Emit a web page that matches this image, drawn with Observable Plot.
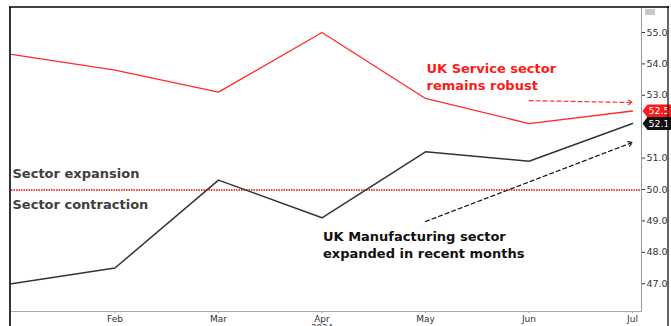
<!DOCTYPE html>
<html><head><meta charset="utf-8">
<script src="https://cdn.jsdelivr.net/npm/d3@7"></script>
<script src="https://cdn.jsdelivr.net/npm/@observablehq/plot@0.6"></script>
<style>
html,body{margin:0;padding:0;background:#fff;}
#chart svg{display:block;}
</style>
</head><body><div id="chart"></div>
<script>
const months = ["Jan","Feb","Mar","Apr","May","Jun","Jul"];
const services = [54.3, 53.8, 53.1, 55.0, 52.9, 52.1, 52.5];
const manufacturing = [47.0, 47.5, 50.3, 49.1, 51.2, 50.9, 52.1];
const yTicks = [47, 48, 49, 50, 51, 53, 54, 55];
const lastLabels = [{v: 52.5, c: "#ff1a1a"}, {v: 52.1, c: "#111"}];

const svcData = months.map((m, i) => ({i, v: services[i]}));
const mfgData = months.map((m, i) => ({i, v: manufacturing[i]}));

const tag = {
  draw(ctx, size) {
    const h = 6.5, w = 29, p = 5;
    ctx.moveTo(-w/2, 0);
    ctx.lineTo(-w/2 + p, -h);
    ctx.lineTo(w/2, -h);
    ctx.lineTo(w/2, h);
    ctx.lineTo(-w/2 + p, h);
    ctx.closePath();
  }
};

const font = "DejaVu Sans, Verdana, sans-serif";

const chart = Plot.plot({
  width: 671,
  height: 326,
  marginLeft: 11,
  marginRight: 30,
  marginTop: 8,
  marginBottom: 15,
  style: {fontFamily: font, background: "#fff"},
  x: {domain: [0, 6.087], axis: null},
  y: {domain: [46.115, 55.764], axis: null},
  marks: [
    Plot.frame({anchor: "right", stroke: "#999"}),
    Plot.frame({anchor: "bottom", stroke: "#aaa"}),
    Plot.ruleY([50], {stroke: "#e01010", strokeWidth: 1.5, strokeDasharray: "1.5,1", dy: 0.5}),
    Plot.axisY(yTicks, {anchor: "right", tickSize: 3, tickPadding: 2, tickFormat: d3.format(".1f"), fontSize: 9.5, fill: "#333", stroke: "#333"}),
    Plot.axisX([1,2,3,4,5,6], {anchor: "bottom", tickSize: 2, tickPadding: 2, tickFormat: i => months[i], fontSize: 9, fill: "#333", stroke: "#999"}),
    Plot.text(["2024"], {x: [3], frameAnchor: "bottom", dy: 19, fontSize: 8.5, fill: "#333"}),
    Plot.line(svcData, {x: "i", y: "v", stroke: "#ff2a2a", strokeWidth: 1.3}),
    Plot.line(mfgData, {x: "i", y: "v", stroke: "#333", strokeWidth: 1.5}),
    Plot.arrow([{x1: 5, y1: 52.83, x2: 6, y2: 52.77}], {x1: "x1", y1: "y1", x2: "x2", y2: "y2", stroke: "#ff3030", strokeWidth: 1.2, strokeDasharray: "4,3", headLength: 6}),
    Plot.arrow([{x1: 4, y1: 48.98, x2: 6, y2: 51.5}], {x1: "x1", y1: "y1", x2: "x2", y2: "y2", stroke: "#111", strokeWidth: 1.2, strokeDasharray: "4,3", headLength: 6}),
    Plot.text(["UK Service sector\nremains robust"], {x: [4], y: [53.61], textAnchor: "start", lineAnchor: "middle", lineHeight: 1.3, fontSize: 13, fontWeight: "bold", fill: "#ff1a1a", dx: 1}),
    Plot.text(["UK Manufacturing sector\nexpanded in recent months"], {x: [3], y: [48.25], textAnchor: "start", lineAnchor: "middle", lineHeight: 1.3, fontSize: 13, fontWeight: "bold", fill: "#111", dx: 1}),
    Plot.text(["Sector expansion", "Sector contraction"], {x: [0, 0], y: [50.51, 49.52], textAnchor: "start", fontSize: 13, fontWeight: "bold", fill: "#404040", dx: 1}),
    Plot.dot(lastLabels, {y: "v", frameAnchor: "right", dx: 15.5, symbol: tag, r: 5, fill: "c", stroke: "none"}),
    Plot.text(lastLabels, {y: "v", frameAnchor: "right", dx: 17.5, textAnchor: "middle", text: d => d.v.toFixed(1), fill: "#fff", fontSize: 9.5})
  ]
});

const svg = d3.select(chart);
svg.append("line").attr("x1", 10).attr("x2", 10).attr("y1", 7).attr("y2", 326).attr("stroke", "#000").attr("stroke-width", 1.6);
svg.append("line").attr("x1", 9).attr("x2", 669).attr("y1", 7).attr("y2", 7).attr("stroke", "#000").attr("stroke-width", 1.6);
svg.append("line").attr("x1", 668).attr("x2", 668).attr("y1", 6).attr("y2", 326).attr("stroke", "#000").attr("stroke-width", 1.2);
svg.append("rect").attr("x", 645).attr("y", 9).attr("width", 10).attr("height", 6).attr("fill", "#c8c8c8");
document.getElementById("chart").appendChild(chart);
</script>
</body></html>
